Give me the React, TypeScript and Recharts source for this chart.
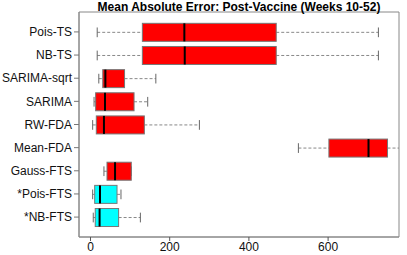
import React from 'react';
import { ComposedChart, Bar, XAxis, YAxis, ReferenceArea } from 'recharts';

const categories = ['Pois-TS', 'NB-TS', 'SARIMA-sqrt', 'SARIMA', 'RW-FDA', 'Mean-FDA', 'Gauss-FTS', '*Pois-FTS', '*NB-FTS'];
const mins = [17, 17, 21, 9, 5.5, 525, 34, 5.5, 7];
const q1s = [131, 131, 31, 13, 14.7, 602, 41.7, 10.6, 12];
const medians = [237, 238, 37.6, 36.6, 34, 702, 62, 24, 23];
const q3s = [469, 469, 86, 110, 136, 750, 103, 67, 71];
const maxs = [727, 727, 165, 144.5, 275, 790, 103, 77, 126];
const boxColors = ['#FF0000', '#FF0000', '#FF0000', '#FF0000', '#FF0000', '#FF0000', '#FF0000', '#00FFFF', '#00FFFF'];
const xTicks = [0, 200, 400, 600];
const yTicks = [1, 2, 3, 4, 5, 6, 7, 8, 9];
const title = 'Mean Absolute Error: Post-Vaccine (Weeks 10-52)';

const data = categories.map((name, i) => ({
  name,
  pos: i + 1,
  range: [mins[i], maxs[i]],
  min: mins[i],
  q1: q1s[i],
  med: medians[i],
  q3: q3s[i],
  max: maxs[i],
  color: boxColors[i],
}));

const FONT = '"Liberation Sans", Arial, Helvetica, sans-serif';

const BoxShape = (props: any) => {
  const { x, y, width, height, payload } = props;
  const lo = payload.min;
  const hi = payload.max;
  const k = hi > lo ? width / (hi - lo) : 0;
  const px = (v: number) => x + (v - lo) * k;
  const cy = y + height / 2;
  const st = height * 0.27;
  const xmin = px(payload.min);
  const xq1 = px(payload.q1);
  const xmed = px(payload.med);
  const xq3 = px(payload.q3);
  const xmax = px(payload.max);
  const wc = '#888888';
  return (
    <g>
      <line x1={xmin} x2={xq1} y1={cy} y2={cy} stroke={wc} strokeWidth={1} strokeDasharray="3 2" />
      <line x1={xq3} x2={xmax} y1={cy} y2={cy} stroke={wc} strokeWidth={1} strokeDasharray="3 2" />
      <line x1={xmin} x2={xmin} y1={cy - st} y2={cy + st} stroke="#666" strokeWidth={1} />
      <line x1={xmax} x2={xmax} y1={cy - st} y2={cy + st} stroke="#666" strokeWidth={1} />
      <rect x={xq1} y={y} width={xq3 - xq1} height={height} fill={payload.color} stroke="#777777" strokeWidth={1} />
      <line x1={xmed} x2={xmed} y1={y} y2={y + height} stroke="#000" strokeWidth={2} />
    </g>
  );
};

export default function App() {
  return (
    <div style={{ position: 'absolute', left: 0, top: 0, width: 407, height: 255, background: '#fff' }}>
      <ComposedChart
        width={407}
        height={255}
        data={data}
        layout="vertical"
        margin={{ top: 12, right: 8, bottom: 0, left: 0 }}
      >
        <XAxis
          type="number"
          domain={[-29, 779]}
          allowDataOverflow
          ticks={xTicks}
          interval={0}
          height={18}
          tickSize={4}
          tickMargin={1}
          axisLine={{ stroke: '#888888' }}
          tickLine={{ stroke: '#555555' }}
          tick={{ fill: '#111', fontSize: 12, fontFamily: FONT }}
        />
        <YAxis
          type="number"
          dataKey="pos"
          domain={[0.14, 9.86]}
          allowDataOverflow
          ticks={yTicks}
          interval={0}
          width={79}
          tickSize={5}
          tickMargin={2}
          tickFormatter={(v: number) => categories[v - 1] ?? ''}
          axisLine={{ stroke: '#888888' }}
          tickLine={{ stroke: '#777777' }}
          tick={{ fill: '#111', fontSize: 12, fontFamily: FONT }}
        />
        <ReferenceArea x1={-29} x2={779} y1={0.14} y2={9.86} fill="none" stroke="#888888" strokeWidth={1} ifOverflow="visible" />
        <Bar dataKey="range" barSize={18} shape={BoxShape} isAnimationActive={false} />
      </ComposedChart>
      <div
        style={{
          position: 'absolute',
          left: 79,
          width: 320,
          top: 0,
          textAlign: 'center',
          fontFamily: FONT,
          fontWeight: 'bold',
          fontSize: 12,
          lineHeight: '14px',
          color: '#000',
          whiteSpace: 'nowrap',
        }}
      >
        {title}
      </div>
    </div>
  );
}
